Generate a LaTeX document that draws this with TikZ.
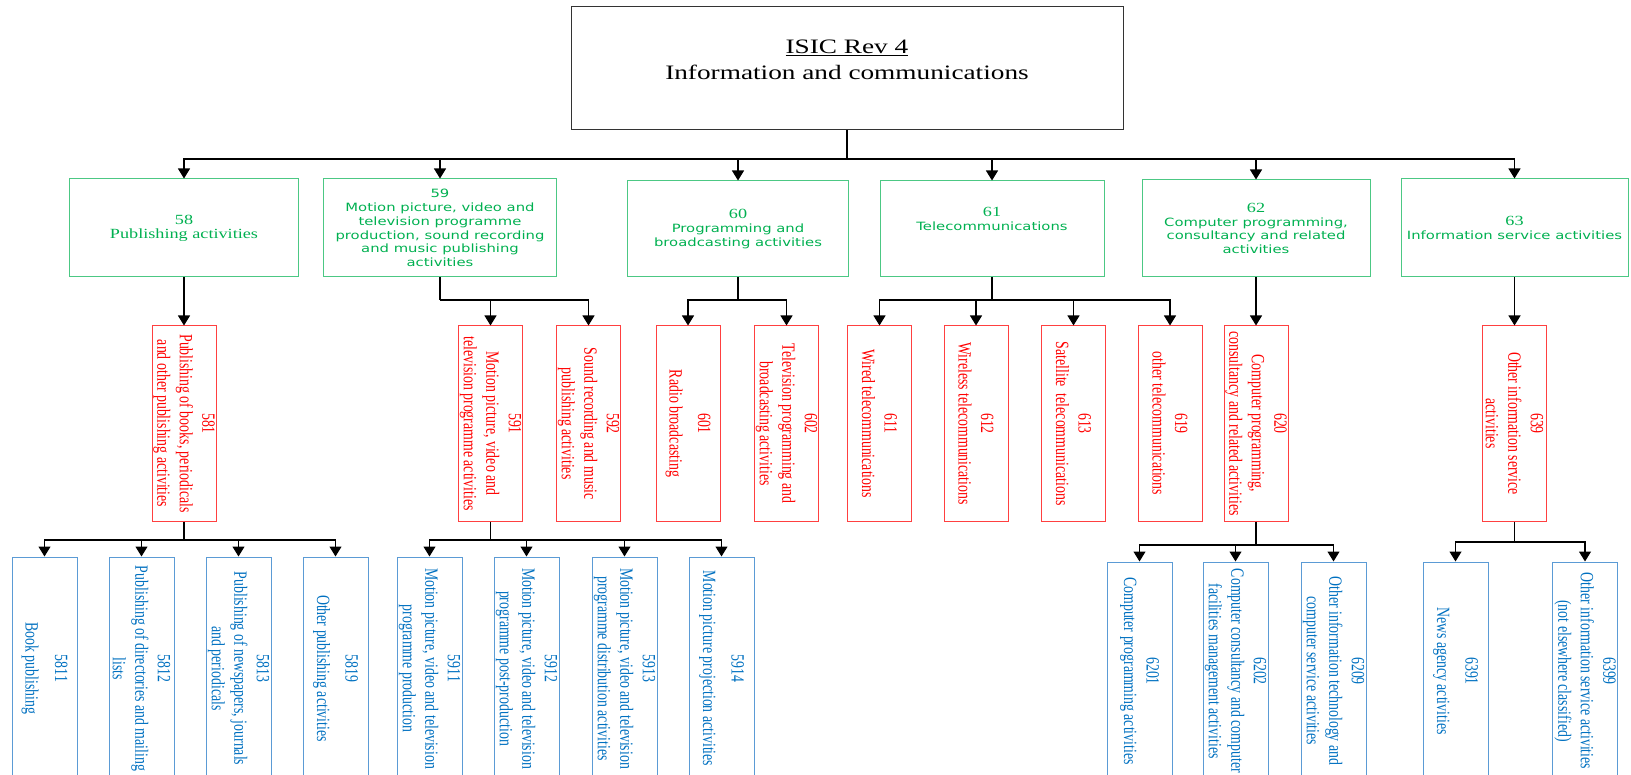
\documentclass[tikz,border=0pt]{standalone}
\usepackage{fontspec}
\usetikzlibrary{arrows.meta}
\newfontfamily\topfont[FakeStretch=1.33]{Liberation Serif}
\newfontfamily\gserif[FakeStretch=1.3]{Liberation Serif}
\newfontfamily\gsans[FakeStretch=1.3]{DejaVu Sans}
\newfontfamily\nserif[FakeStretch=0.74]{Liberation Serif}
\newcommand{\gnum}{\fontsize{14}{16}\selectfont\gserif}
\definecolor{gtxt}{HTML}{00B050}
\definecolor{btxt}{HTML}{0070C0}
\definecolor{bline}{HTML}{5B9BD5}
\begin{document}
\begin{tikzpicture}[x=1pt,y=-1pt,
  line/.style={draw=black,line width=1.1pt},
  arr/.style={line,-{Triangle[width=12pt,length=10pt]}},
  topbox/.style={draw=black!80,line width=1pt,minimum width=552pt,minimum height=123pt,align=center,
    font=\fontsize{20.5}{26}\selectfont\topfont},
  gbox/.style={draw=gtxt!70!white,line width=1pt,align=center,text=gtxt,inner sep=2pt,
    font=\fontsize{11.4}{13.8}\selectfont\gsans},
  rbox/.style={draw=red!75!white,line width=1pt,rotate=-90,minimum width=195pt,minimum height=64pt,
    align=center,text=red,inner sep=1pt,font=\fontsize{18.7}{22.5}\selectfont\nserif},
  bbox/.style={draw=bline,line width=1pt,rotate=-90,minimum height=65pt,
    align=center,text=btxt,inner sep=1pt,font=\fontsize{18.7}{22.5}\selectfont\nserif},
]
\useasboundingbox (0,0) rectangle (1631,775);
\clip (0,0) rectangle (1631,775);

% top
\node[topbox,text depth=17pt] (top) at (847,68.5) {\underline{ISIC Rev 4}\\Information and communications};

% level 2
\node[gbox,minimum width=229pt,minimum height=98pt] (g58) at (184,228) {\gnum 58\\\gnum Publishing activities};
\node[gbox,minimum width=233pt,minimum height=98pt] (g59) at (440,228) {59\\Motion picture, video and\\television programme\\production, sound recording\\and music publishing\\activities};
\node[gbox,minimum width=221pt,minimum height=96pt] (g60) at (738,229) {{\gnum 60}\\Programming and\\broadcasting activities};
\node[gbox,minimum width=224pt,minimum height=96pt,text depth=20pt] (g61) at (992,229) {{\gnum 61}\\Telecommunications};
\node[gbox,minimum width=228pt,minimum height=97pt] (g62) at (1256,228.5) {{\gnum 62}\\Computer programming,\\consultancy and related\\activities};
\node[gbox,minimum width=227pt,minimum height=98pt] (g63) at (1514.5,228) {{\gnum 63}\\Information service activities};

% level 3
\node[rbox] (r581) at (184,423.5) {581\\Publishing of books, periodicals\\and other publishing activities};
\node[rbox] (r591) at (490.5,423.5) {591\\Motion picture, video and\\television programme activities};
\node[rbox] (r592) at (588.5,423.5) {592\\Sound recording and music\\publishing activities};
\node[rbox] (r601) at (688,423.5) {601\\[6pt]Radio broadcasting};
\node[rbox] (r602) at (786.5,423.5) {602\\Television programming and\\broadcasting activities};
\node[rbox] (r611) at (879.5,423.5) {611\\Wired telecommunications};
\node[rbox] (r612) at (976,423.5) {612\\Wireless telecommunications};
\node[rbox] (r613) at (1073.5,423.5) {613\\Satellite\ \ telecommunications};
\node[rbox] (r619) at (1170,423.5) {619\\other telecommunications};
\node[rbox] (r620) at (1256,423.5) {620\\Computer programming,\\consultancy and related activities};
\node[rbox] (r639) at (1514.5,423.5) {639\\Other information service\\activities};

% level 4
\node[bbox,minimum width=223pt] (b5811) at (44.5,668.5) {5811\\[7pt]Book publishing};
\node[bbox,minimum width=223pt] (b5812) at (141.5,668.5) {5812\\Publishing of directories and mailing\\lists};
\node[bbox,minimum width=223pt] (b5813) at (238.5,668.5) {5813\\Publishing of newspapers, journals\\and periodicals};
\node[bbox,minimum width=223pt] (b5819) at (335.5,668.5) {5819\\[6pt]Other publishing activities};
\node[bbox,minimum width=223pt] (b5911) at (429.5,668.5) {5911\\Motion picture, video and television\\programme production};
\node[bbox,minimum width=223pt] (b5912) at (526.5,668.5) {5912\\Motion picture, video and television\\programme post-production};
\node[bbox,minimum width=223pt] (b5913) at (624.5,668.5) {5913\\Motion picture, video and television\\programme distribution activities};
\node[bbox,minimum width=223pt] (b5914) at (721.5,668.5) {5914\\[6pt]Motion picture projection activities};
\node[bbox,minimum width=218pt] (b6201) at (1139.5,671) {6201\\Computer programming activities};
\node[bbox,minimum width=218pt] (b6202) at (1235.5,671) {6202\\Computer consultancy and computer\\facilities management activities};
\node[bbox,minimum width=218pt] (b6209) at (1333.5,671) {6209\\Other information technology and\\computer service activities};
\node[bbox,minimum width=218pt] (b6391) at (1455.5,671) {6391\\[6pt]News agency activities};
\node[bbox,minimum width=218pt] (b6399) at (1585,671) {6399\\Other information service activities\\(not elsewhere classified)};

% junctions
\coordinate (j0) at (847,159);
\coordinate (j59) at (440,300);
\coordinate (j60) at (738,300);
\coordinate (j61) at (992,300);
\coordinate (j581) at (184,540);
\coordinate (j591) at (490.5,540);
\coordinate (j620) at (1256,545);
\coordinate (j639) at (1514.5,542);

% connectors top -> level 2
\draw[line] (top.south) -- (j0);
\foreach \n in {g58,g59,g60,g61,g62,g63} \draw[arr] (j0) -| (\n.north);

% level 2 -> level 3
\draw[arr] (g58.south) -- (r581.west);
\draw[line] (g59.south) -- (j59);
\draw[arr] (j59) -| (r591.west);
\draw[arr] (j59) -| (r592.west);
\draw[line] (g60.south) -- (j60);
\draw[arr] (j60) -| (r601.west);
\draw[arr] (j60) -| (r602.west);
\draw[line] (g61.south) -- (j61);
\foreach \n in {r611,r612,r613,r619} \draw[arr] (j61) -| (\n.west);
\draw[arr] (g62.south) -- (r620.west);
\draw[arr] (g63.south) -- (r639.west);

% level 3 -> level 4
\draw[line] (r581.east) -- (j581);
\foreach \n in {b5811,b5812,b5813,b5819} \draw[arr] (j581) -| (\n.west);
\draw[line] (r591.east) -- (j591);
\foreach \n in {b5911,b5912,b5913,b5914} \draw[arr] (j591) -| (\n.west);
\draw[line] (r620.east) -- (j620);
\foreach \n in {b6201,b6202,b6209} \draw[arr] (j620) -| (\n.west);
\draw[line] (r639.east) -- (j639);
\foreach \n in {b6391,b6399} \draw[arr] (j639) -| (\n.west);
\end{tikzpicture}
\end{document}
